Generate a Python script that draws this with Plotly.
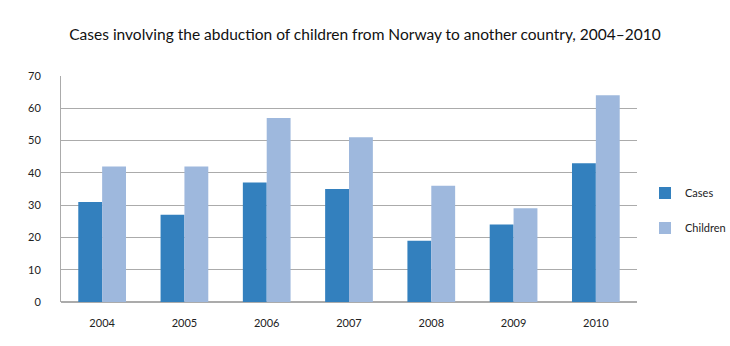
import plotly.graph_objects as go

years = ["2004", "2005", "2006", "2007", "2008", "2009", "2010"]
cases = [31, 27, 37, 35, 19, 24, 43]
children = [42, 42, 57, 51, 36, 29, 64]
yticks = [0, 10, 20, 30, 40, 50, 60, 70]

fig = go.Figure()
fig.add_trace(go.Bar(x=years, y=cases, name="Cases", marker=dict(color="#3380BE", line=dict(width=0)), legendgroup="a"))
fig.add_trace(go.Bar(x=years, y=children, name="Children", marker=dict(color="#9EB8DD", line=dict(width=0)), legendgroup="b"))

fig.update_layout(
    width=730, height=346,
    margin=dict(l=61, r=93, t=76, b=44, autoexpand=False),
    paper_bgcolor="white", plot_bgcolor="white",
    font=dict(family="Lato, Open Sans, sans-serif", size=11, color="#222"),
    title=dict(text="Cases involving the abduction of children from Norway to another country, 2004–2010",
               x=0.5, xanchor="center", y=0.9, yanchor="middle",
               font=dict(size=15.5, color="#111")),
    barmode="group", bargap=0.42, bargroupgap=0,
    legend=dict(xref="container", x=645 / 730, xanchor="left", y=0.405, yanchor="middle",
                tracegroupgap=16, font=dict(size=11), itemwidth=30, borderwidth=0),
    xaxis=dict(showline=False, ticks="", tickfont=dict(size=11), ticklabelstandoff=13),
    yaxis=dict(range=[0, 70], tickvals=yticks, showgrid=True, gridcolor="#ababab", gridwidth=1,
               showline=True, linecolor="#ababab", zeroline=True, zerolinecolor="#ababab",
               ticks="", tickfont=dict(size=11), ticklabelstandoff=17),
)
fig.write_html("out.html")
